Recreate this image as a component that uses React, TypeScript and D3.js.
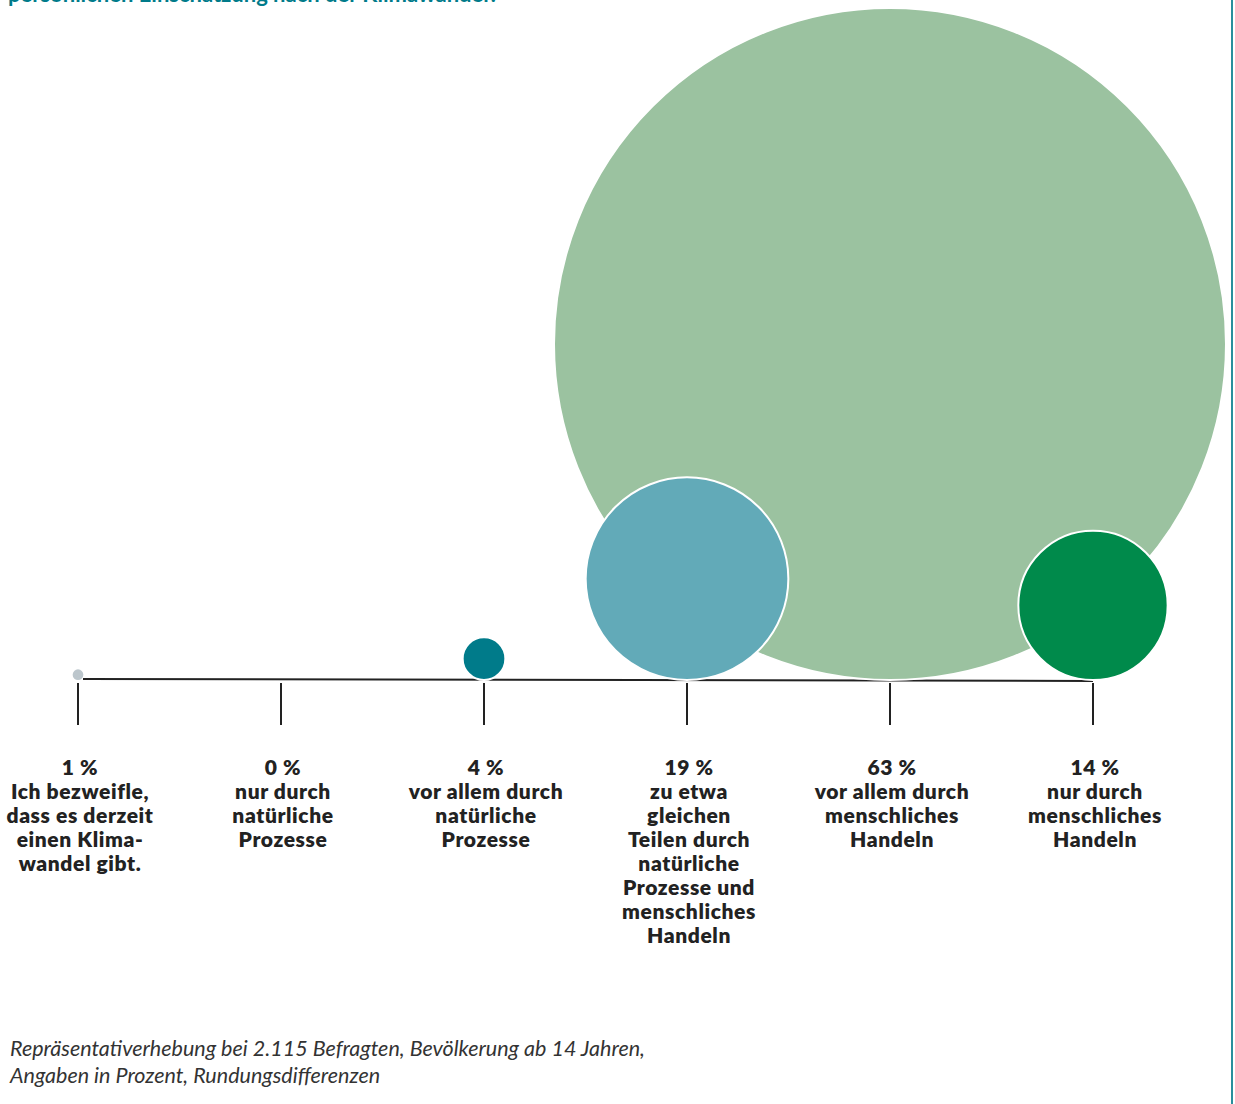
import React from "react";
import * as d3 from "d3";

const WIDTH = 1235;
const HEIGHT = 1104;
const BASELINE = 680;

const TITLE = "persönlichen Einschätzung nach der Klimawandel?";

const categories = ["zweifel", "nurNatur", "vorAllemNatur", "gleich", "vorAllemMensch", "nurMensch"];
const values = [1, 0, 4, 19, 63, 14];
const colors = ["#bcc6cc", "#bcc6cc", "#007b8a", "#62aab8", "#9bc2a0", "#008a4b"];
const labels = [
  ["Ich bezweifle,", "dass es derzeit", "einen Klima-", "wandel gibt."],
  ["nur durch", "natürliche", "Prozesse"],
  ["vor allem durch", "natürliche", "Prozesse"],
  ["zu etwa", "gleichen", "Teilen durch", "natürliche", "Prozesse und", "menschliches", "Handeln"],
  ["vor allem durch", "menschliches", "Handeln"],
  ["nur durch", "menschliches", "Handeln"],
];
const footnote = [
  "Repräsentativerhebung bei 2.115 Befragten, Bevölkerung ab 14 Jahren,",
  "Angaben in Prozent, Rundungsdifferenzen",
];

const FONT = "Lato, 'Noto Sans', sans-serif";

export default function App() {
  const x = d3.scalePoint<string>().domain(categories).range([78, 1093]);
  const r = d3.scaleLinear().domain([0, 63]).range([0, 336]);

  // big circles first so the small ones sit on top
  const order = d3.range(values.length).sort((a, b) => values[b] - values[a]);

  return (
    <svg
      width={WIDTH}
      height={HEIGHT}
      style={{ position: "absolute", left: 0, top: 0, background: "#fff" }}
    >
      <text x={8} y={2} fill="#007b8a" fontFamily={FONT} fontWeight={700} fontSize={22}>
        {TITLE}
      </text>

      <line x1={1232} x2={1232} y1={0} y2={HEIGHT} stroke="#2a8e9c" strokeWidth={2} />

      <line
        x1={(x(categories[0]) ?? 0) + 5}
        x2={x(categories[categories.length - 1])}
        y1={BASELINE - 1}
        y2={BASELINE + 1}
        stroke="#222"
        strokeWidth={2}
      />
      {categories.map((c) => (
        <line key={c} x1={x(c)} x2={x(c)} y1={683} y2={725} stroke="#222" strokeWidth={2} />
      ))}

      {order.map((i) =>
        values[i] > 0 ? (
          <circle
            key={categories[i]}
            cx={x(categories[i])}
            cy={BASELINE - r(values[i])}
            r={r(values[i])}
            fill={colors[i]}
            stroke="#fff"
            strokeWidth={values[i] > 1 ? 2 : 0}
          />
        ) : null
      )}

      {categories.map((c, i) => {
        const cx = (x(c) ?? 0) + 2;
        return (
          <text
            key={c}
            x={cx}
            y={775}
            textAnchor="middle"
            fontFamily={FONT}
            fontWeight={800}
            fontSize={21}
            letterSpacing={0.6}
            fill="#222"
          >
            <tspan x={cx} dy={0}>{`${values[i]} %`}</tspan>
            {labels[i].map((l, j) => (
              <tspan key={j} x={cx} dy={24}>
                {l}
              </tspan>
            ))}
          </text>
        );
      })}

      {footnote.map((t, i) => (
        <text
          key={i}
          x={10}
          y={1056 + i * 27}
          fontFamily={FONT}
          fontStyle="italic"
          fontSize={21.5}
          fill="#333"
        >
          {t}
        </text>
      ))}
    </svg>
  );
}
